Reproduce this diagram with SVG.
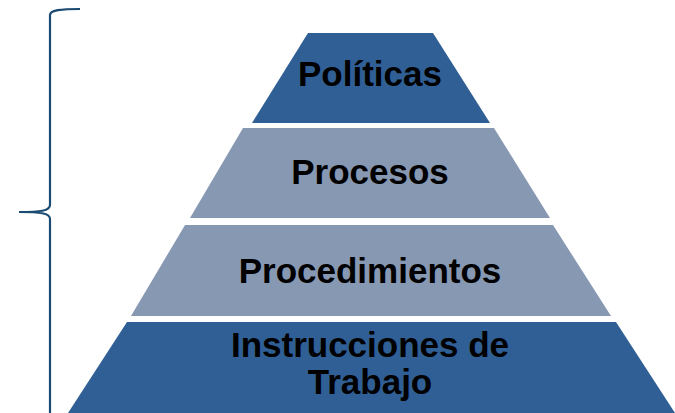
<svg xmlns="http://www.w3.org/2000/svg" width="675" height="413" viewBox="0 0 675 413">
<style>
.dark{fill:#2F5F95}
.light{fill:#8798B3}
.lbl{font-family:"Liberation Sans",Arial,sans-serif;font-weight:bold;font-size:35px;fill:#000;text-anchor:middle}
.brace{fill:none;stroke:#1B4A72;stroke-width:2.2}
</style>
<rect width="675" height="413" fill="#fff"/>
<g id="brace"><path class="brace" d="M80,9 C60,9 50,10 50,15 L50,205 C50,211 40,212 19,212 C40,212 50,213 50,219 L50,413"/></g>
<g id="politicas"><polygon class="dark" points="308,33 433,33 490,123 252,123"/><text class="lbl" x="370" y="86">Políticas</text></g>
<g id="procesos"><polygon class="light" points="243,128 494,128 550,218 190,218"/><text class="lbl" x="370" y="184">Procesos</text></g>
<g id="procedimientos"><polygon class="light" points="185,225 553,225 611,316 131,316"/><text class="lbl" x="370" y="283">Procedimientos</text></g>
<g id="instrucciones"><polygon class="dark" points="127,322 616,322 675,413 68,413"/><text class="lbl" x="370" y="357">Instrucciones de</text><text class="lbl" x="370" y="394">Trabajo</text></g>
<g id="connectors"/>
</svg>
